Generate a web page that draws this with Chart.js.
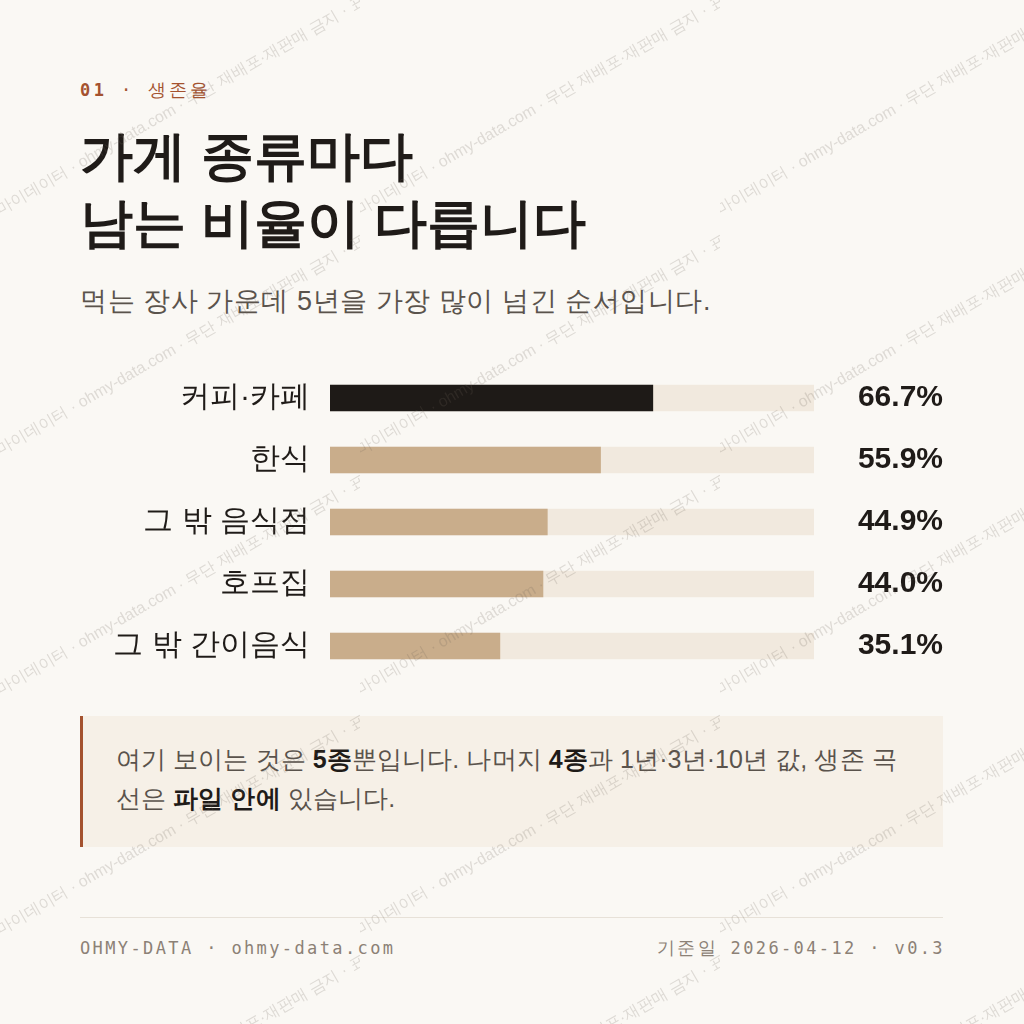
<!DOCTYPE html>
<html lang="ko">
<head>
<meta charset="utf-8">
<script src="https://cdn.jsdelivr.net/npm/chart.js@4.4.1/dist/chart.umd.min.js"></script>
<style>
  html, body { margin: 0; padding: 0; }
  body { width: 1024px; height: 1024px; background: #faf8f4; position: relative; overflow: hidden;
         font-family: sans-serif; color: #1f1b18; }
  .abs { position: absolute; white-space: nowrap; }
  .ko { font-family: sans-serif; font-size: 18px; }
  #kicker { left: 80px; top: 77px; font-family: "DejaVu Sans Mono", sans-serif; font-size: 17px;
            letter-spacing: 0.2em; color: #a4522f; line-height: 26px; }
  #kicker .ko { letter-spacing: 3px; }
  #kicker b { font-weight: 700; }
  #title { left: 80px; top: 122px; font-size: 53px; font-weight: 700; line-height: 67px; color: #1f1b18; }
  #subtitle { left: 80px; top: 283px; font-size: 27px; letter-spacing: 0.55px; line-height: 36px; color: #5a534c; }
  #chartWrap { position: absolute; left: 80px; top: 367px; width: 863px; height: 310px; }
  #note { position: absolute; left: 80px; top: 716px; width: 863px; height: 131px; background: #f6f0e7;
          border-left: 3px solid #a4522f; box-sizing: border-box; padding: 24px 0 0 33px;
          font-size: 25px; letter-spacing: 0.1px; line-height: 39px; color: #5a534c; white-space: nowrap; }
  #note b { color: #1f1b18; font-weight: 700; }
  #rule { position: absolute; left: 80px; top: 917px; width: 863px; height: 1px; background: #e7e1d8; }
  .foot { position: absolute; top: 936px; font-family: "DejaVu Sans Mono", sans-serif; font-size: 17px;
          letter-spacing: 0.14em; color: #8c8176; line-height: 24px; white-space: nowrap; }
  #footL { left: 80px; }
  #footR { right: 79px; }
  #wm { position: absolute; left: 0; top: 0; pointer-events: none; }
</style>
</head>
<body>
<div id="kicker" class="abs"><b>01</b> · <span class="ko">생존율</span></div>
<div id="title" class="abs">가게 종류마다<br>남는 비율이 다릅니다</div>
<div id="subtitle" class="abs">먹는 장사 가운데 5년을 가장 많이 넘긴 순서입니다.</div>
<div id="chartWrap"><canvas id="chart" width="863" height="310"></canvas></div>
<div id="note">여기 보이는 것은 <b>5종</b>뿐입니다. 나머지 <b>4종</b>과 1년·3년·10년 값, 생존 곡<br>선은 <b>파일 안에</b> 있습니다.</div>
<div id="rule"></div>
<div id="footL" class="foot">OHMY-DATA · ohmy-data.com</div>
<div id="footR" class="foot"><span class="ko">기준일</span> 2026-04-12 · v0.3</div>
<canvas id="wm" width="1024" height="1024"></canvas>
<script>
// ---- data ----
const categories = ['커피·카페', '한식', '그 밖 음식점', '호프집', '그 밖 간이음식'];
const survival5y = [66.7, 55.9, 44.9, 44.0, 35.1];
const trackValues = [100, 100, 100, 100, 100];
const valueLabels = ['66.7%', '55.9%', '44.9%', '44.0%', '35.1%'];
const highlightIndex = 0;

const INK = '#1f1b18';
const TAN = '#c9ad8b';
const TRACK = '#f1e9de';
const FONT = 'sans-serif';

function fixAxis(width) {
  return function (s) { s.width = width; s.paddingTop = 0; s.paddingBottom = 0; };
}

new Chart(document.getElementById('chart'), {
  type: 'bar',
  data: {
    labels: categories,
    datasets: [
      { data: survival5y, backgroundColor: categories.map((_, i) => i === highlightIndex ? '#1e1a17' : TAN),
        barThickness: 26, grouped: false, borderWidth: 0 },
      { data: trackValues, backgroundColor: TRACK, barThickness: 26, grouped: false, borderWidth: 0 }
    ]
  },
  options: {
    indexAxis: 'y',
    responsive: false,
    animation: false,
    devicePixelRatio: 1,
    layout: { padding: 0 },
    plugins: { legend: { display: false }, tooltip: { enabled: false } },
    scales: {
      x: { display: false, min: 0, max: 100 },
      y: {
        position: 'left',
        grid: { display: false }, border: { display: false },
        ticks: { color: INK, font: { family: FONT, size: 30 }, padding: 12 },
        afterFit: fixAxis(250)
      },
      y2: {
        type: 'category', labels: valueLabels, position: 'right', offset: true,
        grid: { display: false }, border: { display: false },
        ticks: { color: INK, font: { family: FONT, size: 30, weight: 'bold' }, padding: 44, crossAlign: 'far' },
        afterFit: fixAxis(129)
      }
    }
  }
});

// ---- watermark ----
const wm = document.getElementById('wm').getContext('2d');
const WM_TEXT = '마이데이터 · ohmy-data.com · 무단 재배포·재판매 금지 · 표시 필수';
wm.font = '16px sans-serif';
wm.fillStyle = 'rgba(110,100,90,0.2)';
for (let tx = 0; tx < 1024; tx += 360) {
  for (let ty = -25; ty < 1024; ty += 240) {
    wm.save();
    wm.beginPath(); wm.rect(tx, ty, 360, 240); wm.clip();
    wm.translate(tx, ty + 240);
    wm.rotate(-Math.PI / 6);
    wm.fillText(WM_TEXT, 0, 0);
    wm.restore();
  }
}
</script>
</body>
</html>
